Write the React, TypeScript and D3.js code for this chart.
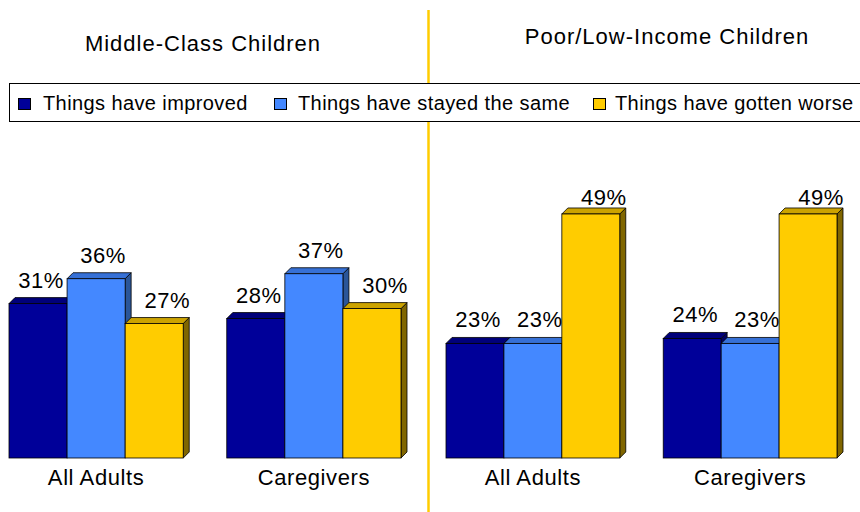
import React from "react";
import * as d3 from "d3";

const panels = ["Middle-Class Children", "Poor/Low-Income Children"];
const categories = ["All Adults", "Caregivers"];
const series = ["Things have improved", "Things have stayed the same", "Things have gotten worse"];
const middleClassImproved = [31, 28];
const middleClassSame = [36, 37];
const middleClassWorse = [27, 30];
const poorImproved = [23, 24];
const poorSame = [23, 23];
const poorWorse = [49, 49];

const panelValues = [
  [middleClassImproved, middleClassSame, middleClassWorse],
  [poorImproved, poorSame, poorWorse],
];

const W = 860;
const H = 512;
const BASE = 458;
const DEPTH = 6;
const FONT = "'Liberation Sans', Arial, sans-serif";
const panelRanges: [number, number][] = [
  [9, 401],
  [446, 837],
];
const titleLayout = [
  { x: 203, y: 51 },
  { x: 667, y: 44 },
];
const legendX = [18, 274, 593];
const legendTextGap = [25, 24, 22];
const labelShift = [0, 4, 10];

const colors = {
  front: ["#000099", "#4488ff", "#ffcc00"],
  top: ["#00007a", "#3670d6", "#cca300"],
  side: ["#000066", "#2a5599", "#806600"],
};

const y = d3.scaleLinear().domain([0, 50]).range([BASE, 209]);

export default function App() {
  return (
    <svg
      width={W}
      height={H}
      style={{ position: "absolute", left: 0, top: 0, display: "block", background: "#fff" }}
      fontFamily={FONT}
    >
      <rect x={0} y={0} width={W} height={H} fill="#fff" />
      <line x1={428.5} x2={428.5} y1={10} y2={H} stroke="#ffcc00" strokeWidth={2.5} />
      {panels.map((p, pi) => (
        <text
          key={p}
          x={titleLayout[pi].x}
          y={titleLayout[pi].y}
          textAnchor="middle"
          fontSize={22}
          letterSpacing={1}
          fill="#000"
        >
          {p}
        </text>
      ))}
      <rect x={9.5} y={83.5} width={860} height={38} fill="#fff" stroke="#000" strokeWidth={1} />
      {series.map((s, si) => (
        <g key={s}>
          <rect x={legendX[si] + 0.5} y={98.5} width={12} height={11} fill={colors.front[si]} stroke="#000" strokeWidth={1} />
          <text x={legendX[si] + legendTextGap[si]} y={110} fontSize={20} letterSpacing={0.4} fill="#000">
            {s}
          </text>
        </g>
      ))}
      {panels.map((p, pi) => {
        const x0 = d3.scaleBand<string>().domain(categories).range(panelRanges[pi]).paddingInner(0.2).paddingOuter(0);
        const x1 = d3.scaleBand<string>().domain(series).range([0, x0.bandwidth()]).padding(0);
        return (
          <g key={p}>
            {categories.map((c, ci) => {
              const gx = x0(c)!;
              return (
                <g key={c}>
                  {series.map((s, si) => {
                    const v = panelValues[pi][si][ci];
                    const x = gx + x1(s)!;
                    const w = x1.bandwidth();
                    const top = y(v);
                    const d = DEPTH;
                    const side = `M${x + w},${top} L${x + w + d},${top - d} L${x + w + d},${BASE - d} L${x + w},${BASE} Z`;
                    const topFace = `M${x},${top} L${x + d},${top - d} L${x + w + d},${top - d} L${x + w},${top} Z`;
                    return (
                      <g key={s}>
                        <path d={side} fill={colors.side[si]} stroke="#000" strokeWidth={0.8} strokeLinejoin="round" />
                        <path d={topFace} fill={colors.top[si]} stroke="#000" strokeWidth={0.8} strokeLinejoin="round" />
                        <rect x={x} y={top} width={w} height={BASE - top} fill={colors.front[si]} stroke="#000" strokeWidth={0.8} />
                      </g>
                    );
                  })}
                  {series.map((s, si) => {
                    const v = panelValues[pi][si][ci];
                    const x = gx + x1(s)! + x1.bandwidth() / 2 + DEPTH / 2 + labelShift[si];
                    const ty = Math.max(y(v) - DEPTH - 10, 205);
                    return (
                      <text key={s} x={x} y={ty} textAnchor="middle" fontSize={22} letterSpacing={0.5} fill="#000">
                        {v}%
                      </text>
                    );
                  })}
                  <text x={gx + x0.bandwidth() / 2} y={485} textAnchor="middle" fontSize={22} letterSpacing={0.6} fill="#000">
                    {c}
                  </text>
                </g>
              );
            })}
          </g>
        );
      })}
    </svg>
  );
}
